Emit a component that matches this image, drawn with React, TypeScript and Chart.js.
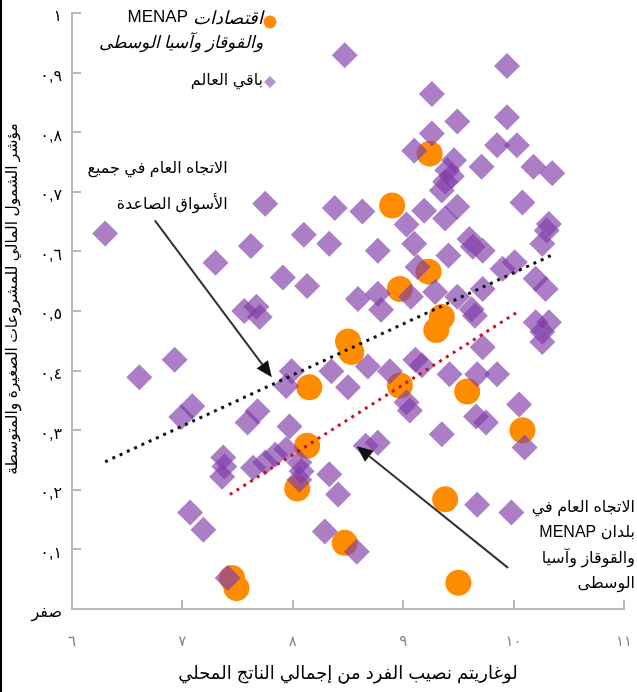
import React, { useEffect, useRef } from 'react';
import { Chart, registerables } from 'chart.js';

Chart.register(...registerables);

// ---- Data ----
const menapX = [9.24, 8.9, 9.23, 8.97, 9.35, 9.3, 8.5, 8.53, 8.15, 8.97, 9.58, 10.08, 8.13, 8.04, 9.38, 8.47, 9.5, 7.45, 7.49];
const menapY = [0.764, 0.677, 0.566, 0.537, 0.49, 0.468, 0.449, 0.431, 0.372, 0.375, 0.365, 0.3, 0.274, 0.202, 0.184, 0.111, 0.044, 0.052, 0.035];

const restX = [
  8.47, 9.94, 9.26, 9.94, 9.49, 9.26, 9.1, 9.85, 10.03, 9.46,
  9.4, 9.44, 9.38, 9.35, 9.71, 10.18, 10.35, 7.75, 8.38, 8.63,
  9.19, 9.49, 10.08, 9.38, 9.03, 6.3, 7.62, 8.1, 8.33, 10.32,
  10.3, 10.26, 8.77, 9.1, 9.6, 9.63, 9.72, 9.41, 7.3, 7.91,
  8.13, 9.9, 10.01, 10.2, 10.29, 9.13, 7.56, 7.67, 7.7, 8.59,
  8.77, 8.8, 9.07, 9.29, 9.49, 9.62, 9.65, 9.72, 10.2, 10.32,
  10.26, 10.26, 9.72, 6.61, 6.93, 7.09, 6.99, 7.68, 7.59, 7.97,
  7.99, 7.94, 8.35, 8.5, 8.68, 8.88, 9.11, 9.17, 9.42, 9.67,
  9.85, 7.37, 7.38, 7.36, 7.64, 7.75, 7.84, 7.94, 8.06, 8.08,
  8.06, 8.33, 8.41, 7.07, 7.19, 8.29, 7.41, 8.58, 9.03, 9.06,
  9.66, 9.75, 10.05, 9.35, 10.1, 8.66, 8.77, 9.67, 9.98
];
const restY = [
  0.929, 0.911, 0.864, 0.825, 0.818, 0.798, 0.769, 0.778, 0.778, 0.753,
  0.736, 0.726, 0.717, 0.702, 0.742, 0.742, 0.731, 0.68, 0.673, 0.667,
  0.668, 0.675, 0.682, 0.655, 0.645, 0.63, 0.609, 0.628, 0.613, 0.646,
  0.635, 0.613, 0.601, 0.613, 0.621, 0.608, 0.601, 0.593, 0.581, 0.556,
  0.542, 0.571, 0.582, 0.554, 0.537, 0.574, 0.5, 0.507, 0.49, 0.52,
  0.529, 0.502, 0.524, 0.532, 0.524, 0.503, 0.492, 0.537, 0.481, 0.481,
  0.465, 0.448, 0.439, 0.389, 0.418, 0.34, 0.322, 0.332, 0.313, 0.306,
  0.399, 0.374, 0.399, 0.372, 0.407, 0.399, 0.418, 0.409, 0.394, 0.394,
  0.394, 0.254, 0.239, 0.222, 0.237, 0.246, 0.259, 0.268, 0.246, 0.231,
  0.217, 0.226, 0.192, 0.162, 0.133, 0.13, 0.052, 0.096, 0.347, 0.333,
  0.323, 0.313, 0.343, 0.293, 0.271, 0.274, 0.279, 0.175, 0.162
];

const emTrendX = [6.3, 10.35];
const emTrendY = [0.247, 0.594];
const menapTrendX = [7.43, 10.05];
const menapTrendY = [0.192, 0.5];

const xTickLabels = ['٦', '٧', '٨', '٩', '١٠', '١١'];
const yTickLabels = ['صفر', '٠,١', '٠,٢', '٠,٣', '٠,٤', '٠,٥', '٠,٦', '٠,٧', '٠,٨', '٠,٩', '١'];

const xTitle = 'لوغاريتم نصيب الفرد من إجمالي الناتج المحلي';
const yTitle = 'مؤشر الشمول المالي للمشروعات الصغيرة والمتوسطة';

const legendMenapWord = 'اقتصادات';
const legendMenapCode = 'MENAP';
const legendMenapLine2 = 'والقوقاز وآسيا الوسطى';
const legendRest = 'باقي العالم';

const noteEm = ['الاتجاه العام في جميع', 'الأسواق الصاعدة'];
const noteMenap = ['الاتجاه العام في', 'بلدان MENAP', 'والقوقاز وآسيا', 'الوسطى'];

// arrows in data units: [tailX, tailY, tipX, tipY]
const arrowEm = [6.75, 0.652, 7.81, 0.389];
const arrowMenap = [9.95, 0.069, 8.58, 0.273];

const FONT = "'Liberation Sans', 'DejaVu Sans', sans-serif";
const PURPLE = 'rgba(127, 59, 168, 0.66)';
const ORANGE = '#ff8c00';
const AXIS = '#bbbbbb';

const zip = (xs: number[], ys: number[]) => xs.map((x, i) => ({ x, y: ys[i] }));

function drawArrow(ctx: CanvasRenderingContext2D, x1: number, y1: number, x2: number, y2: number) {
  const ang = Math.atan2(y2 - y1, x2 - x1);
  const L = 16;
  const W = 7;
  const bx = x2 - L * Math.cos(ang);
  const by = y2 - L * Math.sin(ang);
  ctx.save();
  ctx.strokeStyle = '#333';
  ctx.lineWidth = 2;
  ctx.beginPath();
  ctx.moveTo(x1, y1);
  ctx.lineTo(bx, by);
  ctx.stroke();
  ctx.fillStyle = '#111';
  ctx.beginPath();
  ctx.moveTo(x2, y2);
  ctx.lineTo(bx + W * Math.sin(ang), by - W * Math.cos(ang));
  ctx.lineTo(bx - W * Math.sin(ang), by + W * Math.cos(ang));
  ctx.closePath();
  ctx.fill();
  ctx.restore();
}

const overlayPlugin = {
  id: 'overlay',
  beforeDatasetsDraw(chart: any) {
    const { ctx, scales } = chart;
    const xs = scales.x;
    const ys = scales.y;
    ctx.save();
    ctx.strokeStyle = AXIS;
    ctx.lineWidth = 2;
    for (let i = 1; i < yTickLabels.length; i++) {
      const py = Math.round(ys.getPixelForValue(i / 10));
      ctx.beginPath();
      ctx.moveTo(xs.left, py);
      ctx.lineTo(xs.left + 9, py);
      ctx.stroke();
    }
    for (let i = 1; i < xTickLabels.length; i++) {
      const px = Math.round(xs.getPixelForValue(6 + i));
      ctx.beginPath();
      ctx.moveTo(px, ys.bottom);
      ctx.lineTo(px, ys.bottom - 9);
      ctx.stroke();
    }
    ctx.restore();
  },
  afterDraw(chart: any) {
    const { ctx, scales } = chart;
    const xs = scales.x;
    const ys = scales.y;
    const X = (v: number) => xs.getPixelForValue(v);
    const Y = (v: number) => ys.getPixelForValue(v);
    ctx.save();
    ctx.direction = 'rtl';
    ctx.textBaseline = 'middle';
    ctx.fillStyle = '#000';

    // y-axis title (rotated)
    ctx.save();
    ctx.translate(13, Y(0.52));
    ctx.rotate(-Math.PI / 2);
    ctx.textAlign = 'center';
    ctx.font = `15.5px ${FONT}`;
    ctx.fillText(yTitle, 0, 0);
    ctx.restore();

    ctx.textAlign = 'right';

    // legend
    const lx = 270;
    ctx.fillStyle = ORANGE;
    ctx.beginPath();
    ctx.arc(lx, 22, 6.5, 0, Math.PI * 2);
    ctx.fill();
    ctx.fillStyle = 'rgba(127, 59, 168, 0.55)';
    ctx.beginPath();
    ctx.moveTo(lx, 76);
    ctx.lineTo(lx + 6, 82);
    ctx.lineTo(lx, 88);
    ctx.lineTo(lx - 6, 82);
    ctx.closePath();
    ctx.fill();
    ctx.fillStyle = '#000';
    ctx.font = `italic 18px ${FONT}`;
    ctx.fillText(legendMenapWord, 263, 19);
    const w = ctx.measureText(legendMenapWord).width;
    ctx.font = `17px ${FONT}`;
    ctx.fillText(legendMenapCode, 263 - w - 5, 17);
    ctx.font = `italic 17px ${FONT}`;
    ctx.fillText(legendMenapLine2, 263, 43);
    ctx.font = `16px ${FONT}`;
    ctx.fillText(legendRest, 263, 81);

    // annotation: all emerging markets
    ctx.font = `16px ${FONT}`;
    const ex = X(7.41);
    noteEm.forEach((t, i) => ctx.fillText(t, ex, Y(0.739) + i * 36));

    // annotation: MENAP
    const mx = X(11.1);
    noteMenap.forEach((t, i) => ctx.fillText(t, mx, Y(0.17) + i * 25.3));
    ctx.restore();

    drawArrow(ctx, X(arrowEm[0]), Y(arrowEm[1]), X(arrowEm[2]), Y(arrowEm[3]));
    drawArrow(ctx, X(arrowMenap[0]), Y(arrowMenap[1]), X(arrowMenap[2]), Y(arrowMenap[3]));
  },
};

export default function App() {
  const ref = useRef<HTMLCanvasElement>(null);
  useEffect(() => {
    if (!ref.current) return;
    Chart.defaults.font.family = FONT;
    const chart = new Chart(ref.current, {
      type: 'scatter',
      data: {
        datasets: [
          {
            label: 'trend-em',
            data: zip(emTrendX, emTrendY),
            showLine: true,
            borderColor: '#111',
            borderWidth: 3,
            borderDash: [3, 5],
            borderCapStyle: 'butt',
            pointRadius: 0,
            order: 0,
          } as any,
          {
            label: 'trend-menap',
            data: zip(menapTrendX, menapTrendY),
            showLine: true,
            borderColor: '#d01020',
            borderWidth: 3,
            borderDash: [3, 5],
            borderCapStyle: 'butt',
            pointRadius: 0,
            order: 0,
          } as any,
          {
            label: legendRest,
            data: zip(restX, restY),
            pointStyle: 'rectRot',
            pointRadius: 13,
            backgroundColor: PURPLE,
            borderWidth: 0,
            order: 1,
          } as any,
          {
            label: legendMenapWord + ' ' + legendMenapCode,
            data: zip(menapX, menapY),
            pointStyle: 'circle',
            pointRadius: 13,
            backgroundColor: ORANGE,
            borderWidth: 0,
            order: 2,
          } as any,
        ],
      },
      options: {
        animation: false,
        responsive: false,
        devicePixelRatio: 1,
        events: [],
        layout: { padding: { top: 12, right: 12, left: 0, bottom: 0 } },
        plugins: { legend: { display: false }, tooltip: { enabled: false } },
        scales: {
          x: {
            type: 'linear',
            min: 6,
            max: 11,
            afterFit: (s: any) => {
              s.height = 83;
              s.paddingLeft = 0;
              s.paddingRight = 0;
            },
            grid: { display: false, drawTicks: false },
            border: { display: true, color: AXIS, width: 2 },
            ticks: {
              stepSize: 1,
              padding: 24,
              color: '#888',
              font: { size: 15 },
              callback: (v: any) => xTickLabels[Math.round(Number(v)) - 6],
            },
            title: { display: true, text: xTitle, color: '#000', font: { size: 18 }, padding: { top: 0, bottom: 7 } },
          },
          y: {
            type: 'linear',
            min: 0,
            max: 1,
            afterFit: (s: any) => {
              s.width = 72;
              s.paddingTop = 0;
              s.paddingBottom = 0;
            },
            grid: { display: false, drawTicks: false },
            border: { display: true, color: AXIS, width: 2 },
            ticks: {
              stepSize: 0.1,
              padding: 10,
              labelOffset: 4,
              color: '#000',
              font: { size: 16 },
              callback: (v: any) => yTickLabels[Math.round(Number(v) * 10)],
            },
            title: { display: false },
          },
        },
      },
      plugins: [overlayPlugin],
    } as any);
    return () => chart.destroy();
  }, []);

  return (
    <div style={{ position: 'fixed', left: 0, top: 0, width: 637, height: 692, background: '#fff' }}>
      <canvas ref={ref} width={637} height={692} style={{ display: 'block', width: 637, height: 692 }} />
      <div style={{ position: 'absolute', left: 0, top: 0, width: 2, height: 692, background: '#000' }} />
    </div>
  );
}
